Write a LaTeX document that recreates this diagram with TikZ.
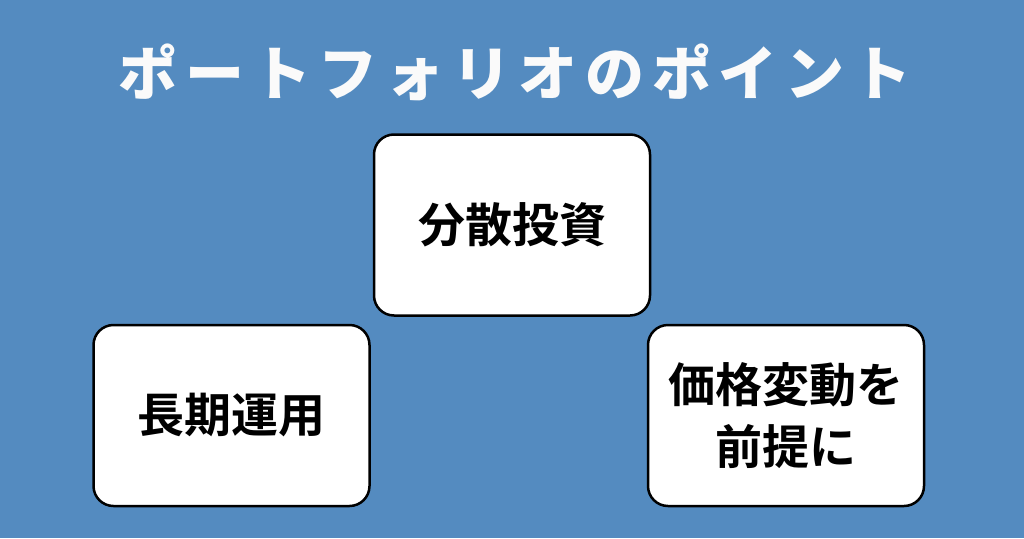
\documentclass[tikz,border=0pt]{standalone}
\usepackage{fontspec}
\newfontfamily\cjk{Noto Sans CJK JP Bold}
\newfontfamily\cjktitle[LetterSpace=13]{Noto Sans CJK JP Black}
\definecolor{bgblue}{HTML}{548BC0}
\definecolor{titlewhite}{HTML}{FAFAFA}
\usetikzlibrary{positioning}

\begin{document}
\begin{tikzpicture}[x=1pt,y=-1pt,
  main node/.style={rectangle,rounded corners=20pt,fill=white,draw=black,line width=2.5pt,
    minimum width=276pt,minimum height=181pt,align=center,font=\cjk\fontsize{47}{62}\selectfont}]
  \fill[bgblue] (0,0) rectangle (1024,538);
  \useasboundingbox (0,0) rectangle (1024,538);
  \node[text=titlewhite,font=\cjktitle\fontsize{59}{70}\selectfont] (title) at (515,72) {ポートフォリオのポイント};
  \node[main node] (diversify) at (512,225) {分散投資};
  \node[main node] (longterm) at (231.5,415.5) {長期運用};
  \node[main node] (volatility) at (786,415.5) {価格変動を\\前提に};
\end{tikzpicture}
\end{document}
